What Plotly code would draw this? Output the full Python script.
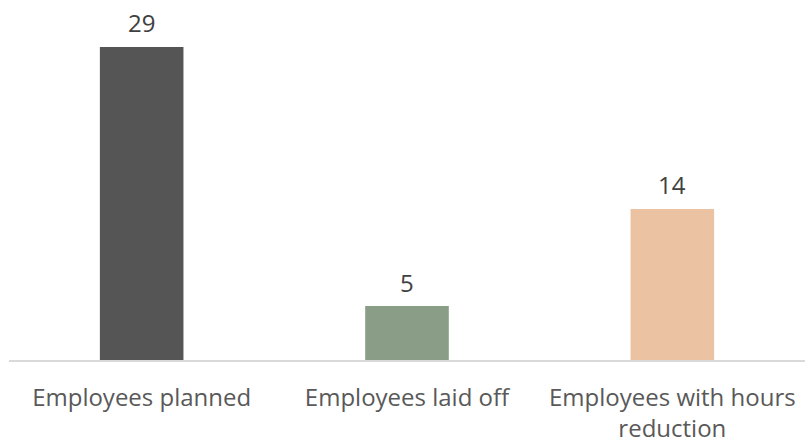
import plotly.graph_objects as go

categories = ["Employees planned", "Employees laid off", "Employees with hours<br>reduction"]
values = [29, 5, 14]
colors = ["#555555", "#8a9d86", "#ebc3a2"]

fig = go.Figure(
    go.Bar(
        x=categories,
        y=values,
        marker=dict(color=colors, line=dict(width=0)),
        width=0.315,
        hoverinfo="x+y",
    )
)

# value labels above each bar
for cat, val in zip(categories, values):
    fig.add_annotation(
        x=cat,
        y=val,
        text=str(val),
        showarrow=False,
        yanchor="middle",
        yshift=24,
        font=dict(family="Open Sans", size=24, color="#404040"),
    )

fig.update_layout(
    width=805,
    height=445,
    margin=dict(l=9, r=0, t=20, b=85),
    paper_bgcolor="white",
    plot_bgcolor="white",
    showlegend=False,
    font=dict(family="Open Sans", size=24, color="#595959"),
)
fig.update_xaxes(
    showline=True,
    linecolor="#d9d9d9",
    linewidth=1.5,
    showgrid=False,
    ticks="",
    ticklabelstandoff=15,
    tickfont=dict(family="Open Sans", size=24, color="#595959"),
)
fig.update_yaxes(visible=False, range=[0, 31.5])

fig.write_html("out.html")
